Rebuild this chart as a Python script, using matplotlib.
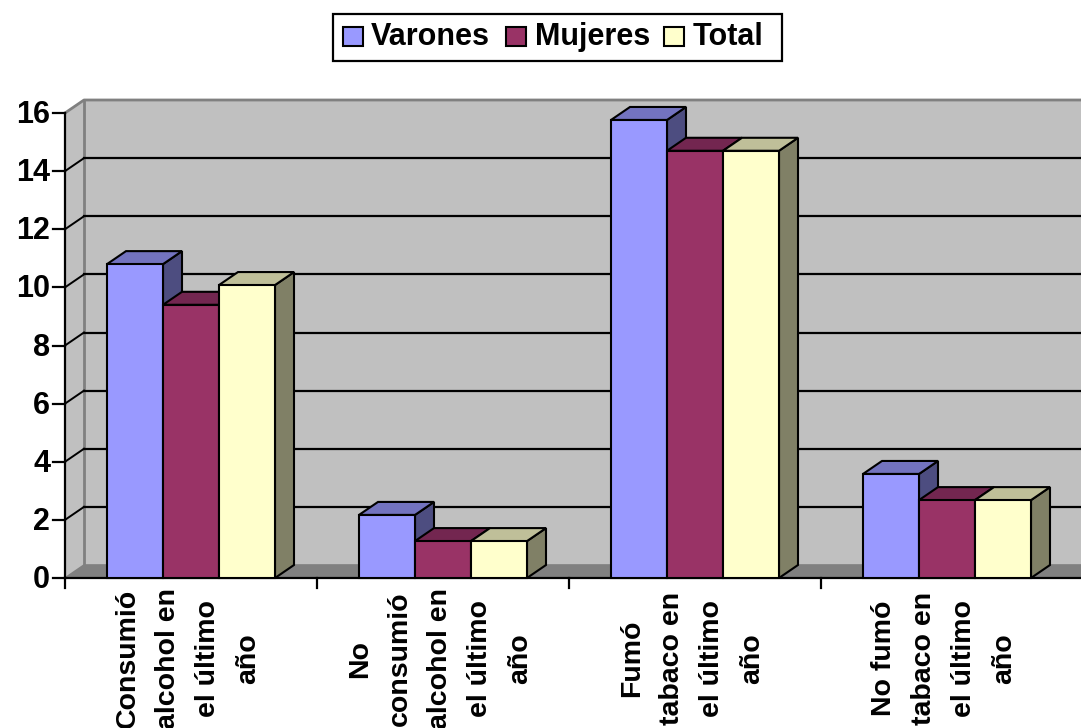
import matplotlib
matplotlib.use("Agg")
import matplotlib.pyplot as plt
from matplotlib.patches import Polygon, Rectangle

labels = ["Consumió\nalcohol en\nel último\naño", "No\nconsumió\nalcohol en\nel último\naño",
          "Fumó\ntabaco en\nel último\naño", "No fumó\ntabaco en\nel último\naño"]
series = ["Varones", "Mujeres", "Total"]
varones = [10.8, 2.17, 15.76, 3.58]
mujeres = [9.4, 1.27, 14.7, 2.68]
total = [10.08, 1.27, 14.7, 2.68]
yticks = [0, 2, 4, 6, 8, 10, 12, 14, 16]

front = ["#9999FF", "#993366", "#FFFFCC"]
top = ["#7373BF", "#732650", "#BFBF99"]
side = ["#4D4D80", "#4D1A33", "#808066"]

plt.rcParams["font.family"] = ["Liberation Sans", "DejaVu Sans"]

W, H = 1081, 728
fig = plt.figure(figsize=(W / 100, H / 100), dpi=100)
ax = fig.add_axes([65 / W, (H - 578) / H, (W - 65) / W, 465 / H])
ax.set_xlim(0, (W - 65) / 252)
ax.set_ylim(0, 16)
ax.axis("off")

# depth of the fake 3d, in data units
dx = 19 / 252
dy = 13 / (465 / 16)
xmax = (W - 65) / 252
k = dict(clip_on=False)

# side wall, back wall and floor
ax.add_patch(Polygon([(0, 0), (dx, dy), (dx, 16 + dy), (0, 16)], fc="#C0C0C0", ec="none", **k))
ax.add_patch(Rectangle((dx, dy), xmax, 16, fc="#C0C0C0", ec="none", **k))
ax.add_patch(Polygon([(0, 0), (dx, dy), (xmax + dx, dy), (xmax, 0)], fc="#808080", ec="#808080", lw=1.2, **k))
ax.plot([0, dx, xmax], [16, 16 + dy, 16 + dy], color="#808080", lw=2, **k)
ax.plot([dx, dx], [dy, 16 + dy], color="#808080", lw=2, **k)
for v in yticks:
    if 0 < v < 16:
        ax.plot([dx, xmax], [v + dy, v + dy], color="black", lw=1.6, **k)
        ax.plot([0, dx], [v, v + dy], color="black", lw=1.4, **k)
    ax.plot([-12 / 252, 0], [v, v], color="black", lw=1.6, **k)
    ax.text(-15 / 252, v - 10 / 29.06, str(v), ha="right", va="baseline", fontsize=22, fontweight="bold", **k)

ax.plot([0, 0], [0, 16], color="black", lw=1.6, **k)
ax.plot([0, xmax], [0, 0], color="black", lw=1.6, **k)

# bars
bw = 56 / 252
x0 = 42 / 252
for i in range(4):
    ax.plot([i, i], [0, -10 / 29.06], color="black", lw=1.6, **k)
    for j, vals in enumerate([varones, mujeres, total]):
        x = i + x0 + j * bw
        v = vals[i]
        ax.add_patch(Polygon([(x + bw, 0), (x + bw + dx, dy), (x + bw + dx, v + dy), (x + bw, v)],
                             fc=side[j], ec="black", lw=1.5, zorder=3 + j, **k))
        ax.add_patch(Polygon([(x, v), (x + dx, v + dy), (x + bw + dx, v + dy), (x + bw, v)],
                             fc=top[j], ec="black", lw=1.5, zorder=3 + j, **k))
        ax.add_patch(Rectangle((x, 0), bw, v, fc=front[j], ec="black", lw=1.5, zorder=3 + j, **k))
    lines = labels[i].split("\n")
    n = len(lines)
    for m, line in enumerate(lines):
        # every line is centred on the same height, long ones run off the figure
        ax.text(i + 0.5 + ((m - (n - 1) / 2) * 40 - 3) / 252, -80.5 / 29.06, line, rotation=90,
                ha="center", va="center", fontsize=20.5, fontweight="bold", **k)

# legend box
fig.patches.append(Rectangle((333 / W, (H - 61) / H), 449 / W, 47 / H, transform=fig.transFigure,
                             fc="white", ec="black", lw=1.6))
lx = [343, 506, 664]
tx = [371, 535, 693]
for j, name in enumerate(series):
    fig.patches.append(Rectangle((lx[j] / W, (H - 46) / H), 20 / W, 19 / H, transform=fig.transFigure,
                                 fc=front[j], ec="black", lw=1.5))
    fig.text(tx[j] / W, (H - 45) / H, name, ha="left", va="baseline", fontsize=22, fontweight="bold")

fig.savefig("out.png", dpi=100)
